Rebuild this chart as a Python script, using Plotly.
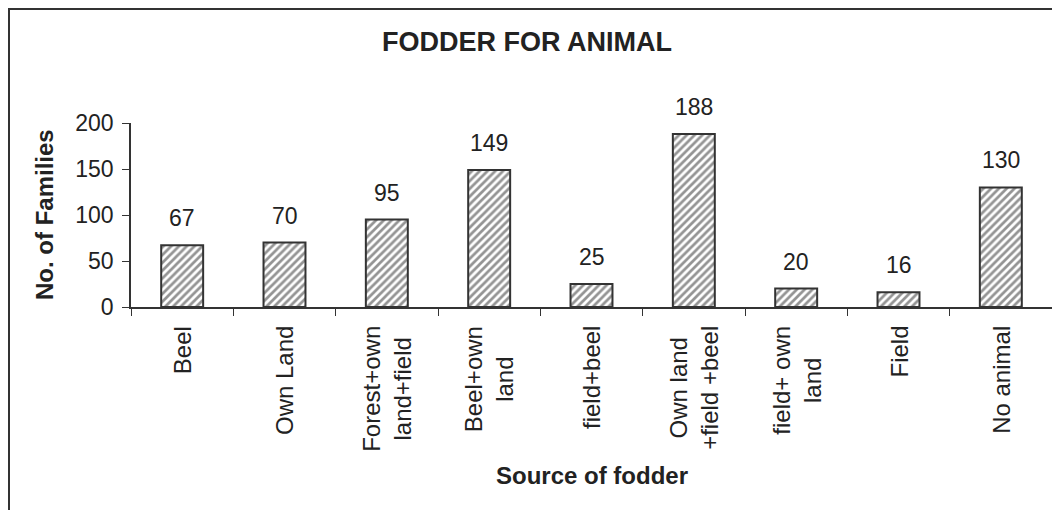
import plotly.graph_objects as go

categories = ["Beel", "Own Land", "Forest+own<br>land+field", "Beel+own<br>land",
              "field+beel", "Own land<br>+field +beel", "field+ own<br>land",
              "Field", "No animal"]
families = [67, 70, 95, 149, 25, 188, 20, 16, 130]

FONT = "Arial, Liberation Sans, sans-serif"
INK = "#333333"
TXT = "#222222"

# the page body has an 8px margin, so the figure is drawn 8px in from the corner
W, H = 1052, 502
L, T, PW, PH = 123, 115, 921, 184

fig = go.Figure(go.Bar(
    x=categories, y=families,
    marker=dict(color="white",
                line=dict(color=INK, width=2),
                pattern=dict(shape="/", size=5.5, solidity=0.5,
                             fgcolor="#2a2a2a", bgcolor="white")),
    showlegend=False, hoverinfo="x+y",
))

# value labels above the bars
for c, v in zip(categories, families):
    fig.add_annotation(x=c, y=v, xref="x", yref="y", text=str(v),
                       showarrow=False, yanchor="bottom", yshift=12,
                       font=dict(size=23, color=TXT))

# category labels, rotated and centred line by line like the original
for c in categories:
    fig.add_annotation(x=c, y=0, xref="x", yref="y", text=c,
                       showarrow=False, textangle=-90, align="center",
                       xanchor="center", yanchor="top", yshift=-17,
                       font=dict(size=24, color=TXT))

fig.add_annotation(x=0.5, y=(T + PH - 467) / PH, xref="paper", yref="paper",
                   text="<b>Source of fodder</b>", showarrow=False,
                   xanchor="center", yanchor="middle",
                   font=dict(size=24, color=TXT))
fig.add_annotation(x=(36 - L) / PW, y=0.5, xref="paper", yref="paper",
                   text="<b>No. of Families</b>", showarrow=False,
                   textangle=-90, xanchor="center", yanchor="middle",
                   font=dict(size=24, color=TXT))

fig.update_layout(
    width=W, height=H,
    paper_bgcolor="white", plot_bgcolor="white",
    margin=dict(l=L, r=W - L - PW, t=T, b=H - T - PH),
    bargap=0.59,
    font=dict(family=FONT, color=TXT),
    title=dict(text="<b>FODDER FOR ANIMAL</b>", x=519 / W, xref="container",
               y=1 - 34 / H, yref="container", xanchor="center",
               yanchor="middle", font=dict(size=27, color=TXT)),
    xaxis=dict(
        showticklabels=False, tickson="boundaries",
        ticks="outside", ticklen=7, tickcolor=INK,
        showline=True, linecolor=INK, linewidth=1.5,
    ),
    yaxis=dict(
        range=[0, 200], tickvals=[0, 50, 100, 150, 200],
        tickfont=dict(size=23), ticks="outside", ticklen=7, tickcolor=INK,
        ticklabelstandoff=4,
        showline=True, linecolor=INK, linewidth=1.5,
        showgrid=False, zeroline=False,
    ),
    shapes=[dict(type="rect", xref="paper", yref="paper",
                 x0=(1 - L) / PW, x1=1.2, y0=-2, y1=(T + PH - 1) / PH,
                 line=dict(color=INK, width=2), layer="below")],
)

fig.write_html("out.html")
